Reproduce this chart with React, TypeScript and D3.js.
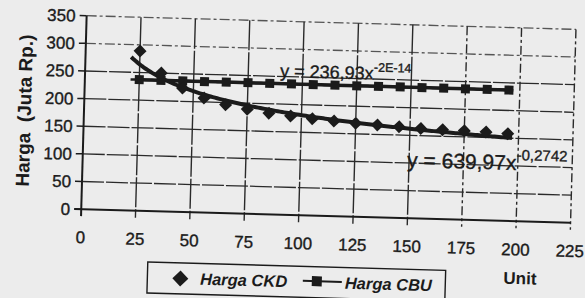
import { useEffect, useRef } from 'react';
import * as d3 from 'd3';

const units = [25, 35, 45, 55, 65, 75, 85, 95, 105, 115, 125, 135, 145, 155, 165, 175, 185, 195];
const hargaCKD = [289, 250, 224, 207, 196, 189, 183, 179, 175, 172, 169, 167, 165, 163, 162, 161, 160, 158];
const hargaCBU = [237, 237, 237, 237, 237, 237, 237, 237, 237, 237, 237, 237, 237, 237, 237, 237, 237, 237];
const xTicks = [0, 25, 50, 75, 100, 125, 150, 175, 200, 225];
const yTicks = [0, 50, 100, 150, 200, 250, 300, 350];

// trendline equations as printed on the chart
const ckdTrend = { a: 639.97, b: -0.2742 };
const cbuTrend = { a: 236.93, b: -2e-14 };

const ink = '#1b1b1b';
const font = 'Liberation Sans, Arial, sans-serif';

export default function App() {
  const ref = useRef<SVGSVGElement | null>(null);

  useEffect(() => {
    const svg = d3.select(ref.current);
    svg.selectAll('*').remove();

    const W = 585, H = 298;
    svg.append('rect').attr('width', W).attr('height', H).attr('fill', '#ececec');

    // the scan is slightly tilted
    const g = svg.append('g').attr('transform', 'rotate(1.6 292 149)');

    const x = d3.scaleLinear().domain([0, 225]).range([83, 572.5]);
    const y = d3.scaleLinear().domain([0, 350]).range([215, 21.5]);

    // grid
    g.selectAll('.hgrid')
      .data(yTicks.filter(d => d > 0))
      .enter()
      .append('line')
      .attr('x1', x(0)).attr('x2', x(225))
      .attr('y1', d => y(d)).attr('y2', d => y(d))
      .attr('stroke', d => (d >= 300 ? '#555' : '#2a2a2a'))
      .attr('stroke-width', 1.3)
      .attr('stroke-dasharray', d => (d >= 300 ? '10 3 3 3' : '22 2'));

    g.selectAll('.vgrid')
      .data(xTicks.filter(d => d > 0))
      .enter()
      .append('line')
      .attr('x1', d => x(d)).attr('x2', d => x(d))
      .attr('y1', y(350)).attr('y2', y(0) + 7)
      .attr('stroke', '#2a2a2a')
      .attr('stroke-width', 1.4)
      .attr('stroke-dasharray', d => (d >= 175 ? '9 3 3 3' : '30 2'));

    // axes
    g.append('line')
      .attr('x1', x(0)).attr('x2', x(0))
      .attr('y1', y(350)).attr('y2', y(0) + 7)
      .attr('stroke', ink).attr('stroke-width', 2);
    g.append('line')
      .attr('x1', x(0) - 7).attr('x2', x(225))
      .attr('y1', y(0)).attr('y2', y(0))
      .attr('stroke', ink).attr('stroke-width', 2);
    g.selectAll('.ytick')
      .data(yTicks)
      .enter()
      .append('line')
      .attr('x1', x(0) - 7).attr('x2', x(0))
      .attr('y1', d => y(d)).attr('y2', d => y(d))
      .attr('stroke', ink).attr('stroke-width', 1.5);

    g.selectAll('.ylabel')
      .data(yTicks)
      .enter()
      .append('text')
      .text(d => d)
      .attr('x', x(0) - 11)
      .attr('y', d => y(d))
      .attr('dy', '0.36em')
      .attr('text-anchor', 'end')
      .attr('font-family', font)
      .attr('font-size', 17)
      .attr('fill', ink)
      .attr('stroke', ink)
      .attr('stroke-width', 0.35);

    g.selectAll('.xlabel')
      .data(xTicks)
      .enter()
      .append('text')
      .text(d => d)
      .attr('x', d => x(d))
      .attr('y', 249)
      .attr('text-anchor', 'middle')
      .attr('font-family', font)
      .attr('font-size', 17)
      .attr('fill', ink)
      .attr('stroke', ink)
      .attr('stroke-width', 0.35);

    g.append('text')
      .text('Harga  (Juta Rp.)')
      .attr('transform', 'translate(30,118) rotate(-90)')
      .attr('text-anchor', 'middle')
      .attr('font-family', font)
      .attr('font-size', 19)
      .attr('font-weight', 'bold')
      .attr('fill', ink)
      .style('white-space', 'pre');

    g.append('text')
      .text('Unit')
      .attr('x', 523.5)
      .attr('y', 277.7)
      .attr('text-anchor', 'middle')
      .attr('font-family', font)
      .attr('font-size', 17)
      .attr('font-weight', 'bold')
      .attr('fill', ink);

    // trendlines
    const line = d3.line<[number, number]>().x(d => x(d[0])).y(d => y(d[1]));
    const trendXs = d3.range(21, 197.5, 1);
    g.append('path')
      .attr('d', line(trendXs.map(t => [t, ckdTrend.a * Math.pow(t, ckdTrend.b)])))
      .attr('fill', 'none').attr('stroke', ink).attr('stroke-width', 4);
    g.append('path')
      .attr('d', line(trendXs.map(t => [t, cbuTrend.a * Math.pow(t, cbuTrend.b)])))
      .attr('fill', 'none').attr('stroke', ink).attr('stroke-width', 2.5);

    // CBU series
    const cbuPts = units.map((u, i) => [u, hargaCBU[i]] as [number, number]);
    g.append('path')
      .attr('d', line(cbuPts))
      .attr('fill', 'none').attr('stroke', ink).attr('stroke-width', 3.5);
    g.selectAll('.sq')
      .data(cbuPts)
      .enter()
      .append('rect')
      .attr('x', d => x(d[0]) - 4.5)
      .attr('y', d => y(d[1]) - 4.5)
      .attr('width', 9).attr('height', 9)
      .attr('fill', ink);

    // CKD markers
    const diamond = (r: number) => `M0,${-r}L${r},0L0,${r}L${-r},0Z`;
    g.selectAll('.dm')
      .data(units.map((u, i) => [u, hargaCKD[i]] as [number, number]))
      .enter()
      .append('path')
      .attr('d', diamond(6.5))
      .attr('transform', d => `translate(${x(d[0])},${y(d[1])})`)
      .attr('fill', ink);

    // equations
    const eq = (x0: number, y0: number, main: string, sup: string, fs: number, sfs: number, rise: number) => {
      const t = g.append('text')
        .attr('x', x0).attr('y', y0)
        .attr('font-family', font)
        .attr('fill', ink)
        .attr('stroke', ink)
        .attr('stroke-width', 0.35);
      t.append('tspan').attr('font-size', fs).text(main);
      t.append('tspan').attr('font-size', sfs).attr('dy', -rise).text(sup);
    };
    eq(278, 77.3, 'y = 236,93x', '-2E-14', 18, 12.5, 8);
    eq(407.5, 163.8, 'y = 639,97x', '-0,2742', 21, 15, 10);

    // legend
    g.append('rect')
      .attr('x', 151).attr('y', 266)
      .attr('width', 298).attr('height', 31)
      .attr('fill', '#ececec')
      .attr('stroke', ink).attr('stroke-width', 1.4);
    g.append('path')
      .attr('d', diamond(8))
      .attr('transform', 'translate(184,281.5)')
      .attr('fill', ink);
    g.append('line')
      .attr('x1', 306.5).attr('x2', 345.5)
      .attr('y1', 280.5).attr('y2', 280.5)
      .attr('stroke', ink).attr('stroke-width', 2);
    g.append('rect')
      .attr('x', 320.5 - 5).attr('y', 280.5 - 5)
      .attr('width', 10).attr('height', 10)
      .attr('fill', ink);
    [['Harga CKD', 203.8], ['Harga CBU', 348.6]].forEach(([label, lx]) => {
      g.append('text')
        .text(label as string)
        .attr('x', lx as number)
        .attr('y', 287.2)
        .attr('font-family', font)
        .attr('font-size', 16.5)
        .attr('font-weight', 'bold')
        .attr('font-style', 'italic')
        .attr('fill', ink);
    });
  }, []);

  return <svg ref={ref} width={585} height={298} style={{ position: 'absolute', left: 0, top: 0 }} />;
}
